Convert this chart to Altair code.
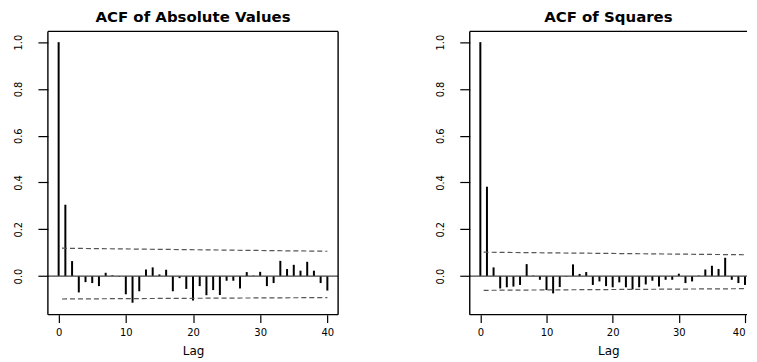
import altair as alt
import pandas as pd

# ---- data ----
lags = list(range(41))
acf_abs = [1.0, 0.305, 0.064, -0.070, -0.026, -0.030, -0.043, 0.014, 0.003, -0.002,
           -0.078, -0.114, -0.065, 0.028, 0.037, 0.007, 0.027, -0.065, -0.009, -0.055,
           -0.105, -0.043, -0.082, -0.060, -0.081, -0.020, -0.020, -0.053, 0.017, 0.002,
           0.018, -0.043, -0.030, 0.065, 0.030, 0.048, 0.023, 0.061, 0.023, -0.030,
           -0.062]
acf_sq = [1.0, 0.382, 0.037, -0.053, -0.048, -0.045, -0.038, 0.051, 0.002, -0.016,
          -0.060, -0.074, -0.047, -0.002, 0.050, 0.009, 0.017, -0.038, -0.023, -0.043,
          -0.048, -0.027, -0.048, -0.057, -0.048, -0.036, -0.020, -0.045, -0.016, -0.016,
          0.010, -0.030, -0.023, 0.002, 0.028, 0.044, 0.030, 0.078, -0.016, -0.030,
          -0.038]
band_lags = [0.5, 40]
abs_upper = [0.119, 0.106]
abs_lower = [-0.098, -0.092]
sq_upper = [0.102, 0.091]
sq_lower = [-0.061, -0.054]
titles = ["ACF of Absolute Values", "ACF of Squares"]
x_ticks = [0, 10, 20, 30, 40]
y_ticks = [0.0, 0.2, 0.4, 0.6, 0.8, 1.0]
x_title = "Lag"

Y_DOMAIN = [-0.165, 1.046]


def panel(title, acf, upper, lower, width, x_domain, edges, flush):
    bars_df = pd.DataFrame({"lag": lags, "acf": acf})
    band_df = pd.DataFrame({
        "lag": band_lags + band_lags,
        "val": upper + lower,
        "which": ["upper"] * len(band_lags) + ["lower"] * len(band_lags),
    })
    zero_df = pd.DataFrame({"z": [0.0]})

    xs = alt.Scale(domain=x_domain, nice=False, zero=False)
    ys = alt.Scale(domain=Y_DOMAIN, nice=False, zero=False)

    xaxis = alt.Axis(values=x_ticks, title=x_title, grid=False, domain=False,
                     tickColor="black", tickSize=8, tickWidth=1.2, format="d",
                     labelFont="DejaVu Sans", labelFontSize=10, labelColor="black",
                     labelPadding=5, labelFlush=flush,
                     titleFont="DejaVu Sans", titleFontSize=12,
                     titleFontWeight="normal", titleColor="black", titlePadding=8)
    yaxis = alt.Axis(values=y_ticks, title=None, grid=False, domain=False,
                     tickColor="black", tickSize=10, tickWidth=1.2, format=".1f",
                     labelAngle=270, labelPadding=14, labelFlush=False,
                     labelFont="Liberation Sans Narrow, DejaVu Sans Condensed, Liberation Sans",
                     labelFontSize=11, labelColor="black")

    bars = alt.Chart(bars_df).mark_rule(color="black", strokeWidth=2).encode(
        x=alt.X("lag:Q", scale=xs, axis=xaxis),
        y=alt.Y("acf:Q", scale=ys, axis=yaxis),
        y2=alt.datum(0),
    )
    zero = alt.Chart(zero_df).mark_rule(color="#444444", strokeWidth=1.3).encode(
        y=alt.Y("z:Q", scale=ys),
    )
    bands = alt.Chart(band_df).mark_line(color="#555555", strokeWidth=1.2,
                                         strokeDash=[5, 3]).encode(
        x=alt.X("lag:Q", scale=xs),
        y=alt.Y("val:Q", scale=ys),
        detail="which:N",
    )
    layers = [bars, zero, bands]
    # box edges (the right panel is cut at the page edge, so no right border)
    hz = [v for k, v in (("top", Y_DOMAIN[1]), ("bottom", Y_DOMAIN[0])) if k in edges]
    vt = [v for k, v in (("left", x_domain[0]), ("right", x_domain[1])) if k in edges]
    if hz:
        layers.append(alt.Chart(pd.DataFrame({"e": hz})).mark_rule(
            color="black", strokeWidth=1.4).encode(y=alt.Y("e:Q", scale=ys)))
    if vt:
        layers.append(alt.Chart(pd.DataFrame({"e": vt})).mark_rule(
            color="black", strokeWidth=1.4).encode(x=alt.X("e:Q", scale=xs)))
    return alt.layer(*layers).properties(
        width=width, height=284,
        title=alt.TitleParams(title, font="DejaVu Sans", fontSize=15,
                              fontWeight="bold", color="black",
                              anchor="middle", offset=6),
    )


chart = alt.hconcat(
    panel(titles[0], acf_abs, abs_upper, abs_lower, 291, [-1.6, 41.6],
          ("top", "bottom", "left", "right"), False),
    panel(titles[1], acf_sq, sq_upper, sq_lower, 278, [-1.6, 40.3],
          ("top", "bottom", "left"), 3),
    spacing=94,
).properties(
    padding={"left": 4, "top": 0, "right": 0, "bottom": 0},
    background="white",
).configure_view(stroke="transparent")

chart.save("out.html", embed_options={"renderer": "svg", "actions": False})
